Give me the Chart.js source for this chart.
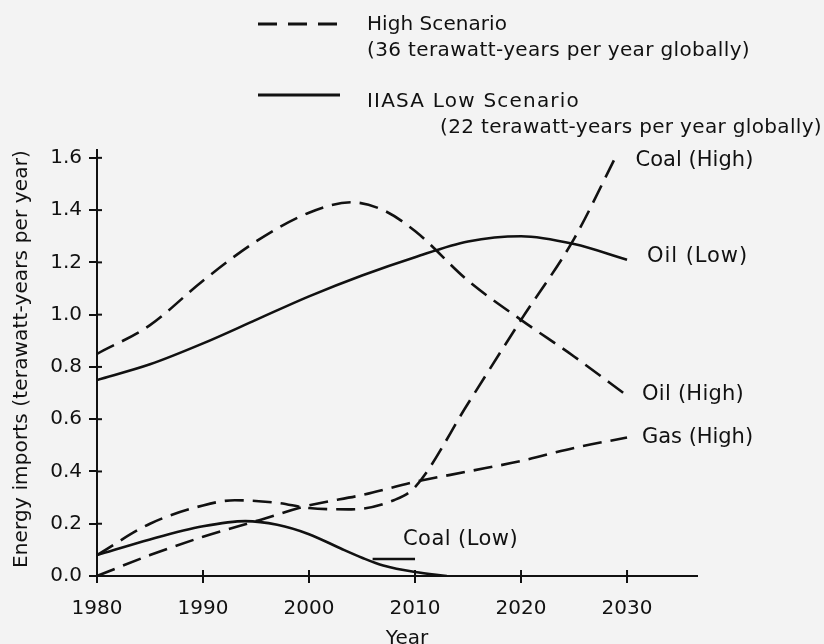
<!DOCTYPE html>
<html>
<head>
<meta charset="utf-8">
<script src="https://cdn.jsdelivr.net/npm/chart.js@4.4.0/dist/chart.umd.min.js"></script>
<style>
  html, body { margin: 0; padding: 0; background: #f3f3f3; }
  #wrap { width: 824px; height: 644px; }
</style>
</head>
<body>
<div id="wrap"><canvas id="chart" width="824" height="644"></canvas></div>
<script>
// tick labels
const yearTicks = [1980, 1990, 2000, 2010, 2020, 2030];
const valueTicks = [0, 0.2, 0.4, 0.6, 0.8, 1.0, 1.2, 1.4, 1.6];

// series (terawatt-years per year)
const oilHighYears  = [1980, 1985, 1990, 1995, 2000, 2004, 2007, 2010, 2015, 2020, 2025, 2030];
const oilHighValues = [0.85, 0.96, 1.13, 1.28, 1.39, 1.43, 1.40, 1.32, 1.13, 0.98, 0.84, 0.69];

const oilLowYears  = [1980, 1985, 1990, 1995, 2000, 2005, 2010, 2015, 2020, 2025, 2030];
const oilLowValues = [0.75, 0.81, 0.89, 0.98, 1.07, 1.15, 1.22, 1.28, 1.30, 1.27, 1.21];

const coalHighYears  = [1980, 1985, 1990, 1993, 1997, 2000, 2004, 2008, 2010, 2015, 2020, 2025, 2029];
const coalHighValues = [0.08, 0.20, 0.27, 0.29, 0.28, 0.26, 0.255, 0.29, 0.34, 0.66, 0.98, 1.29, 1.61];

const gasHighYears  = [1980, 1985, 1990, 1995, 2000, 2005, 2010, 2015, 2020, 2025, 2030];
const gasHighValues = [0.0, 0.08, 0.15, 0.21, 0.27, 0.31, 0.36, 0.40, 0.44, 0.49, 0.53];

const coalLowYears  = [1980, 1985, 1990, 1994, 1997, 2000, 2003, 2005, 2007, 2010, 2013];
const coalLowValues = [0.08, 0.14, 0.19, 0.21, 0.196, 0.16, 0.105, 0.07, 0.04, 0.015, 0.0];

// short leader line under the "Coal (Low)" label
const coalLowLeaderYears  = [2006, 2010];
const coalLowLeaderValues = [0.065, 0.065];

const seriesNames = ["Oil (High)", "Oil (Low)", "Coal (High)", "Gas (High)", "Coal (Low)", ""];

const pts = (xs, ys) => xs.map((x, i) => ({ x: x, y: ys[i] }));

const INK = "#111";
const FONT = "'DejaVu Sans', sans-serif";
const DASH = [19, 9];

function lineSet(label, data, dashed, smooth) {
  return {
    label: label,
    data: data,
    borderColor: INK,
    borderWidth: 2.6,
    borderDash: dashed ? DASH : [],
    pointRadius: 0,
    fill: false,
    cubicInterpolationMode: smooth ? "monotone" : "default",
    tension: 0,
  };
}

// text squeezed or spread to the width it has in the picture
function fitText(ctx, text, x, y, w) {
  ctx.letterSpacing = "0px";
  const m = ctx.measureText(text).width;
  ctx.letterSpacing = ((w - m) / text.length) + "px";
  ctx.fillText(text, x, y);
  ctx.letterSpacing = "0px";
}

// end labels: anchor is the series' last point, offset in px
const endLabels = [
  { ds: 2, text: "Coal (High)", dx: 19, dy: 5, w: 118 },
  { ds: 1, text: "Oil (Low)", dx: 20, dy: -3, w: 101 },
  { ds: 0, text: "Oil (High)", dx: 15, dy: -1, w: 102 },
  { ds: 3, text: "Gas (High)", dx: 15, dy: 0, w: 111 },
  { ds: 5, text: "Coal (Low)", dx: -12, dy: -19, w: 115 },
];

const labelPlugin = {
  id: "labels",
  beforeDraw(chart) {
    const ctx = chart.ctx;
    ctx.save();
    ctx.fillStyle = "#f3f3f3";
    ctx.fillRect(0, 0, chart.width, chart.height);
    ctx.restore();
  },
  afterDraw(chart) {
    const ctx = chart.ctx;
    const xs = chart.scales.x, ys = chart.scales.y;
    ctx.save();
    ctx.fillStyle = INK;
    ctx.strokeStyle = INK;

    // tick marks cross the axes in the original
    ctx.lineWidth = 2;
    xs.ticks.forEach(t => {
      const px = xs.getPixelForValue(t.value);
      ctx.beginPath(); ctx.moveTo(px, xs.top); ctx.lineTo(px, xs.top - 6); ctx.stroke();
    });
    ys.ticks.forEach(t => {
      const py = ys.getPixelForValue(t.value);
      ctx.beginPath(); ctx.moveTo(ys.right, py); ctx.lineTo(ys.right + 5, py); ctx.stroke();
    });

    ctx.font = "21px " + FONT;
    ctx.textBaseline = "middle";
    ctx.textAlign = "left";
    endLabels.forEach(l => {
      const d = chart.data.datasets[l.ds].data;
      const p = d[d.length - 1];
      fitText(ctx, l.text, xs.getPixelForValue(p.x) + l.dx, ys.getPixelForValue(p.y) + l.dy, l.w);
    });

    // axis titles
    ctx.font = "20px " + FONT;
    ctx.textAlign = "center";
    ctx.fillText("Year", 407, 639);
    ctx.save();
    ctx.translate(22, 359);
    ctx.rotate(-Math.PI / 2);
    fitText(ctx, "Energy imports (terawatt-years per year)", 0, 0, 418);
    ctx.restore();

    // legend
    ctx.lineWidth = 3;
    ctx.setLineDash([19, 11]);
    ctx.beginPath(); ctx.moveTo(258, 24); ctx.lineTo(340, 24); ctx.stroke();
    ctx.setLineDash([]);
    ctx.beginPath(); ctx.moveTo(258, 95); ctx.lineTo(340, 95); ctx.stroke();
    ctx.textAlign = "left";
    ctx.textBaseline = "alphabetic";
    ctx.font = "20px " + FONT;
    fitText(ctx, "High Scenario", 367, 30, 140);
    fitText(ctx, "(36 terawatt-years per year globally)", 367, 56, 383);
    fitText(ctx, "IIASA Low Scenario", 367, 107, 213);
    fitText(ctx, "(22 terawatt-years per year globally)", 440, 133, 382);
    ctx.restore();
  }
};

new Chart(document.getElementById("chart"), {
  type: "line",
  data: {
    datasets: [
      lineSet(seriesNames[0], pts(oilHighYears, oilHighValues), true, true),
      lineSet(seriesNames[1], pts(oilLowYears, oilLowValues), false, true),
      lineSet(seriesNames[2], pts(coalHighYears, coalHighValues), true, true),
      lineSet(seriesNames[3], pts(gasHighYears, gasHighValues), true, true),
      lineSet(seriesNames[4], pts(coalLowYears, coalLowValues), false, true),
      lineSet(seriesNames[5], pts(coalLowLeaderYears, coalLowLeaderValues), false, false),
    ],
  },
  options: {
    responsive: false,
    animation: false,
    layout: { padding: { top: 150, right: 127, left: 0, bottom: 0 } },
    plugins: { legend: { display: false }, tooltip: { enabled: false } },
    scales: {
      x: {
        type: "linear",
        min: 1980,
        max: 2036.6,
        afterBuildTicks: s => { s.ticks = yearTicks.map(v => ({ value: v })); },
        afterFit: s => { s.height = 68; },
        border: { color: INK, width: 2 },
        grid: { drawOnChartArea: false, color: INK, lineWidth: 2, tickLength: 7 },
        ticks: { color: INK, font: { family: FONT, size: 20 }, padding: 14, callback: v => String(v) },
      },
      y: {
        min: 0,
        max: 1.63,
        afterBuildTicks: s => { s.ticks = valueTicks.map(v => ({ value: v })); },
        afterFit: s => { s.width = 97; },
        border: { color: INK, width: 2 },
        grid: { drawOnChartArea: false, color: INK, lineWidth: 2, tickLength: 8 },
        ticks: { color: INK, font: { family: FONT, size: 20 }, padding: 7, callback: v => v.toFixed(1) },
      },
    },
  },
  plugins: [labelPlugin],
});
</script>
</body>
</html>
